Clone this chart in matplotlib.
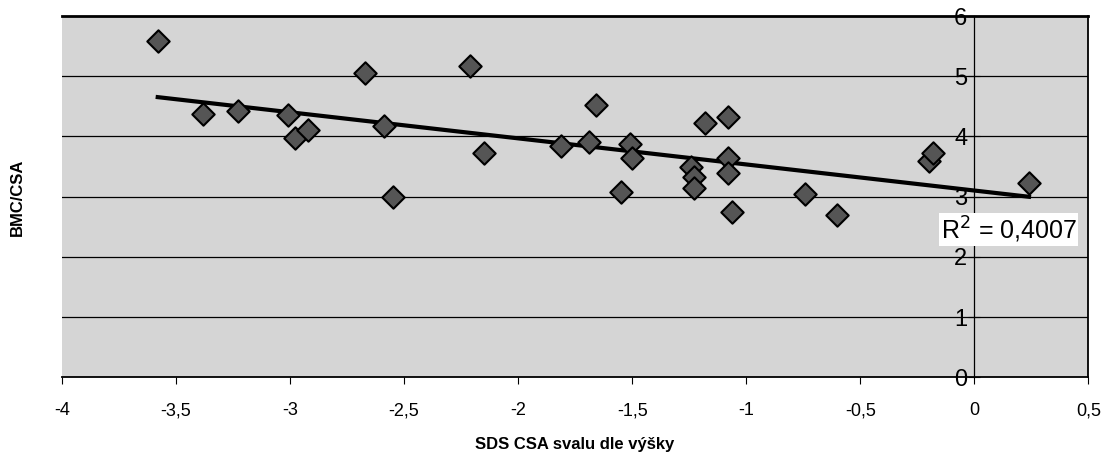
import numpy as np
import matplotlib
matplotlib.use('Agg')
import matplotlib.pyplot as plt

plt.rcParams['font.family'] = ['Liberation Sans', 'DejaVu Sans']

# SDS CSA svalu dle výšky vs BMC/CSA
sds = [-3.58, -3.38, -3.23, -3.01, -2.98, -2.92, -2.67, -2.59, -2.55,
       -2.21, -2.15, -1.81, -1.69, -1.66, -1.51, -1.50, -1.55,
       -1.18, -1.08, -1.24, -1.23, -1.23, -1.08, -1.08, -1.06,
       -0.74, -0.60, -0.20, -0.18, 0.24]
bmc = [5.58, 4.38, 4.43, 4.35, 3.97, 4.10, 5.05, 4.18, 3.00,
       5.17, 3.73, 3.85, 3.90, 4.53, 3.88, 3.65, 3.07,
       4.22, 4.33, 3.50, 3.33, 3.15, 3.65, 3.40, 2.75,
       3.05, 2.70, 3.60, 3.72, 3.23]
r2_text = 'R$^2$ = 0,4007'
xticks = [-4, -3.5, -3, -2.5, -2, -1.5, -1, -0.5, 0, 0.5]
yticks = [0, 1, 2, 3, 4, 5, 6]

x = np.array(sds)
y = np.array(bmc)
k, q = np.polyfit(x, y, 1)
xl = np.array([x.min(), x.max()])

fig = plt.figure(figsize=(11.06, 4.59), dpi=100)
ax = fig.add_axes([0.056, 0.178, 0.928, 0.787])

# grey plot area (stippled in the scan)
ax.set_facecolor('#d5d5d5')
ax.set_xlim(-4, 0.5)
ax.set_ylim(0, 6)

# horizontal gridlines
for v in yticks[1:-1]:
    ax.axhline(v, color='black', lw=0.9, zorder=1)

ax.plot(xl, k * xl + q, color='black', lw=3, zorder=3)
ax.scatter(x, y, marker='D', s=130, color='#555555', edgecolor='black',
           linewidth=1.5, zorder=4)

# y axis sits at x = 0
ax.spines['left'].set_position(('data', 0))
ax.spines['left'].set_linewidth(0.9)
for s in ['top', 'right', 'bottom']:
    ax.spines[s].set_linewidth(1.3)
ax.spines['top'].set_linewidth(2)

ax.set_xticks(xticks)
ax.set_xticklabels([str(t).replace('.', ',') for t in xticks], fontsize=13)
ax.set_yticks(yticks)
ax.set_yticklabels([str(t) for t in yticks], fontsize=17)
ax.tick_params(axis='x', direction='out', length=5, pad=13)
ax.tick_params(axis='y', direction='inout', length=8, pad=1)

ax.text(0.15, 2.45, r2_text, fontsize=18, ha='center', va='center',
        bbox=dict(facecolor='white', edgecolor='none', pad=1), zorder=5)

ax.set_xlabel('SDS CSA svalu dle výšky', fontsize=12, fontweight='bold',
              labelpad=13)
fig.text(0.016, 0.57, 'BMC/CSA', rotation=90, fontsize=12,
         fontweight='bold', ha='center', va='center')

fig.savefig('out.png', dpi=100)
